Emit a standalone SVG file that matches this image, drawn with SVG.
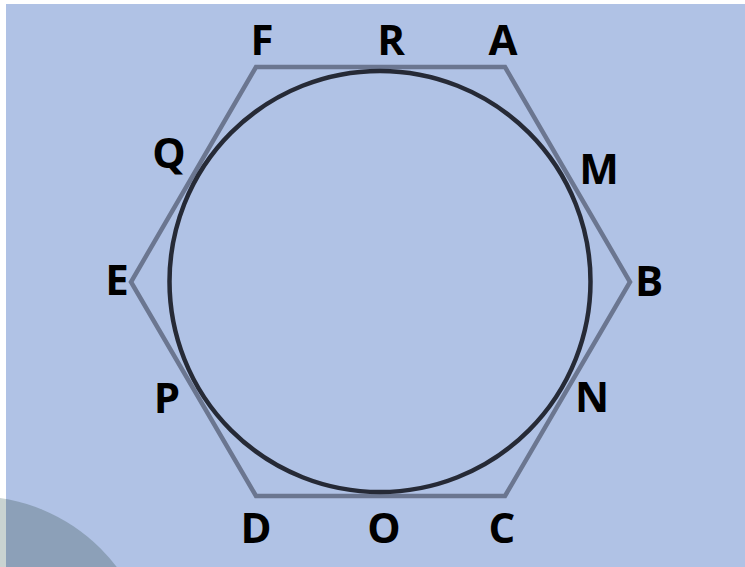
<svg xmlns="http://www.w3.org/2000/svg" width="745" height="567" viewBox="0 0 745 567">
<style>
.lbl{font-family:"Open Sans","Liberation Sans",sans-serif;font-weight:700;font-size:42px;fill:#000;text-anchor:middle}
.hex{fill:none;stroke:#6b7690;stroke-width:4.5;stroke-linejoin:miter}
.circ{fill:none;stroke:#262a36;stroke-width:4.5}
</style>
<defs>
<clipPath id="bgclip"><rect x="6" y="4" width="739" height="563"/></clipPath>
</defs>
<rect x="0" y="0" width="745" height="567" fill="#ffffff"/>
<circle cx="-26" cy="675" r="179" fill="#c9d3d1"/>
<rect x="6" y="4" width="739" height="563" fill="#b0c2e5"/>
<circle cx="-26" cy="675" r="179" fill="#8ca0b8" clip-path="url(#bgclip)"/>
<g id="hexagon"><polygon class="hex" points="256,67 505,67 630,282 505,496 256,496 131,282"/></g>
<g id="circle"><circle class="circ" cx="380" cy="281.5" r="210.5"/></g>
<g id="labels">
<text class="lbl" x="262" y="55">F</text>
<text class="lbl" x="391" y="55">R</text>
<text class="lbl" x="503" y="55">A</text>
<text class="lbl" x="599" y="184">M</text>
<text class="lbl" x="649" y="296">B</text>
<text class="lbl" x="592" y="412">N</text>
<text class="lbl" x="502" y="543">C</text>
<text class="lbl" x="384" y="543">O</text>
<text class="lbl" x="256" y="543">D</text>
<text class="lbl" x="167" y="413">P</text>
<text class="lbl" x="117" y="295">E</text>
<text class="lbl" x="169" y="168">Q</text>
</g>
</svg>
